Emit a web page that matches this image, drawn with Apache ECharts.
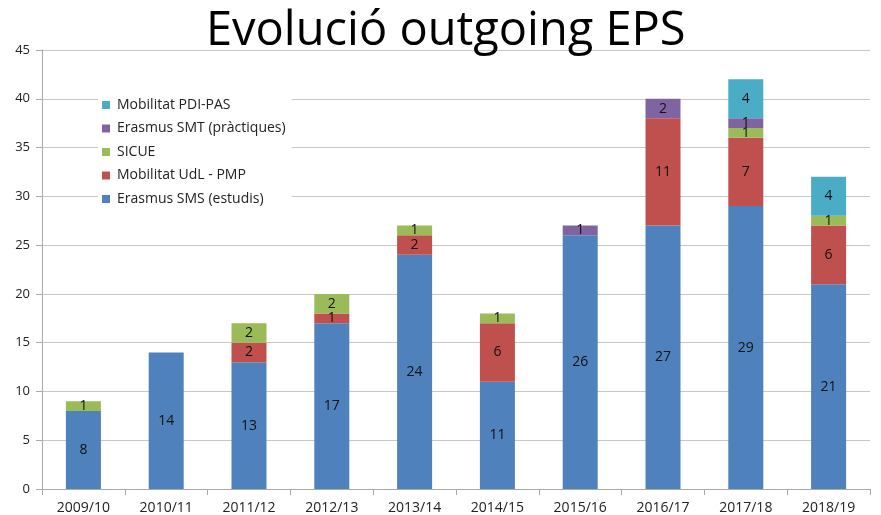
<!DOCTYPE html>
<html lang="ca">
<head>
    <meta charset="UTF-8">
    <title>Evolució outgoing EPS</title>
    <style>
        html, body { margin: 0; padding: 0; background: #fff; }
        #chart { width: 881px; height: 515px; }
    </style>
</head>
<body>
<div id="chart"></div>
<script src="https://cdn.jsdelivr.net/npm/echarts@6/dist/echarts.min.js"></script>
<script>
    // dades
    var cursos = ['2009/10', '2010/11', '2011/12', '2012/13', '2013/14', '2014/15', '2015/16', '2016/17', '2017/18', '2018/19'];
    var erasmusSMS = [8, 14, 13, 17, 24, 11, 26, 27, 29, 21];
    var mobilitatUdL = [0, 0, 2, 1, 2, 6, 0, 11, 7, 6];
    var sicue = [1, 0, 2, 2, 1, 1, 0, 0, 1, 1];
    var erasmusSMT = [0, 0, 0, 0, 0, 0, 1, 2, 1, 0];
    var mobilitatPDI = [0, 0, 0, 0, 0, 0, 0, 0, 4, 4];
    var yTicks = [0, 5, 10, 15, 20, 25, 30, 35, 40, 45];

    var series = [
        {name: 'Erasmus SMS (estudis)', data: erasmusSMS, color: '#4F81BD'},
        {name: 'Mobilitat UdL - PMP', data: mobilitatUdL, color: '#C0504D'},
        {name: 'SICUE', data: sicue, color: '#9BBB59'},
        {name: 'Erasmus SMT (pràctiques)', data: erasmusSMT, color: '#8064A2'},
        {name: 'Mobilitat PDI-PAS', data: mobilitatPDI, color: '#4BACC6'}
    ];

    var chart = echarts.init(document.getElementById('chart'));
    chart.setOption({
        animation: false,
        title: {
            text: 'Evolució outgoing EPS',
            left: 206,
            top: 8,
            padding: 0,
            textStyle: {fontFamily: 'Open Sans', fontSize: 47, fontWeight: 'normal', color: '#000'}
        },
        grid: {left: 42, right: 11, top: 50, bottom: 26},
        legend: {
            orient: 'vertical',
            left: 98,
            top: 94,
            backgroundColor: '#fff',
            padding: [4, 6, 4, 4],
            itemWidth: 8,
            itemHeight: 8,
            itemGap: 9.5,
            icon: 'rect',
            data: series.map(function (s) { return s.name; }).reverse(),
            textStyle: {fontFamily: 'Open Sans', fontSize: 14, color: '#222', padding: [0, 0, 0, 2]}
        },
        xAxis: {
            type: 'category',
            data: cursos,
            axisLine: {lineStyle: {color: '#aaa'}},
            axisTick: {show: true, length: 6, lineStyle: {color: '#aaa'}},
            axisLabel: {fontFamily: 'Open Sans', fontSize: 14, color: '#222', margin: 12}
        },
        yAxis: {
            type: 'value',
            min: yTicks[0],
            max: yTicks[yTicks.length - 1],
            interval: 5,
            axisLine: {show: true, lineStyle: {color: '#aaa'}},
            axisTick: {show: true, inside: false, length: 6, lineStyle: {color: '#aaa'}},
            axisLabel: {fontFamily: 'Open Sans', fontSize: 13, color: '#222', margin: 12},
            splitLine: {lineStyle: {color: '#c8c8c8'}}
        },
        series: series.map(function (s) {
            return {
                name: s.name,
                type: 'bar',
                stack: 'total',
                barWidth: 35,
                data: s.data,
                itemStyle: {color: s.color},
                label: {
                    show: true,
                    position: 'inside',
                    fontFamily: 'Open Sans',
                    fontSize: 14,
                    color: '#111',
                    formatter: function (p) { return p.value ? p.value : ''; }
                }
            };
        })
    });
</script>
</body>
</html>
